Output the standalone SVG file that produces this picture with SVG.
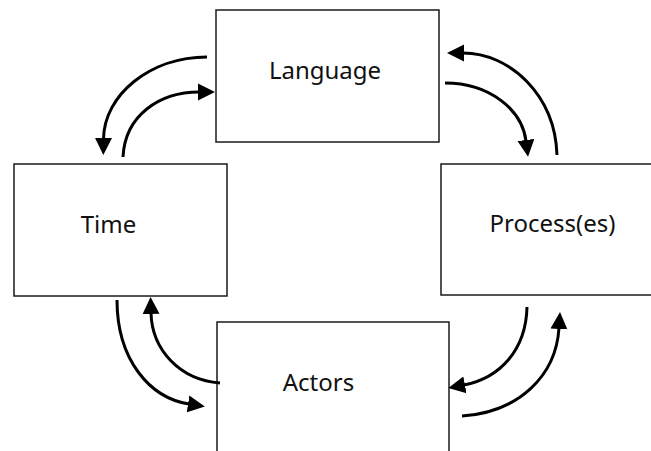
<svg xmlns="http://www.w3.org/2000/svg" width="651" height="451" viewBox="0 0 651 451">
<style>
.box{fill:#fff;stroke:#1a1a1a;stroke-width:1.5}
.lbl{font-family:"Noto Sans","Open Sans",sans-serif;font-size:24px;fill:#111;text-anchor:middle}
.arc{fill:none;stroke:#000;stroke-width:3;marker-end:url(#ah)}
</style>
<defs>
<marker id="ah" markerUnits="userSpaceOnUse" markerWidth="18" markerHeight="18" viewBox="0 -9 18 18" refX="1" refY="0" orient="auto">
<path d="M0,-8.5 L17,0 L0,8.5 z" fill="#000"/>
</marker>
</defs>
<rect width="651" height="451" fill="#fff"/>
<g id="language"><rect class="box" x="216" y="10" width="223" height="132"/><text class="lbl" x="325" y="79">Language</text></g>
<g id="time"><rect class="box" x="14" y="164" width="213" height="132"/><text class="lbl" x="108.5" y="233">Time</text></g>
<g id="process"><rect class="box" x="441" y="164" width="215" height="131"/><text class="lbl" x="552.5" y="232">Process(es)</text></g>
<g id="actors"><rect class="box" x="217" y="322" width="232" height="140"/><text class="lbl" x="318.5" y="391">Actors</text></g>
<g id="connectors">
<path class="arc" d="M207,57 C150,57 104,95 103.5,139"/>
<path class="arc" d="M123,157 C125,115 160,92 199,92"/>
<path class="arc" d="M557,155 C555,95 510,53 463,53"/>
<path class="arc" d="M445,83 C490,83 522,110 526,141"/>
<path class="arc" d="M117,300 C117,360 150,398 189,404"/>
<path class="arc" d="M220,383 C180,380 152,350 151,313"/>
<path class="arc" d="M527,307 C526,350 500,378 464,385"/>
<path class="arc" d="M462,416 C520,412 556,375 559,328"/>
</g>
</svg>
